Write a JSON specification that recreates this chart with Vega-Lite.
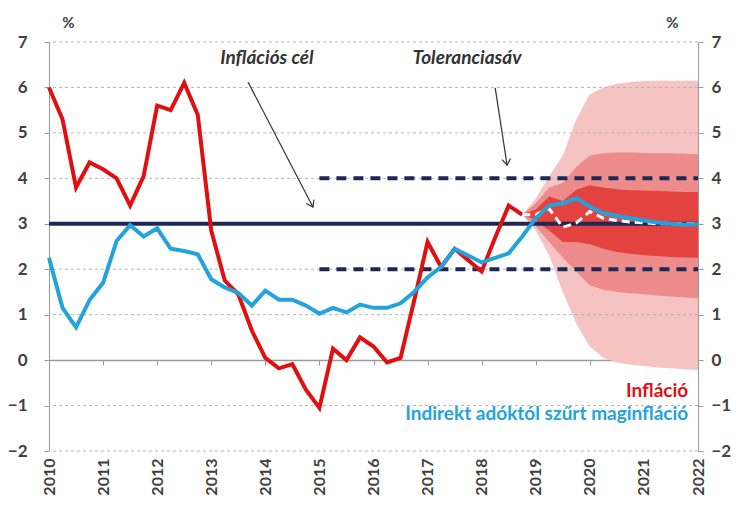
{
  "$schema": "https://vega.github.io/schema/vega-lite/v6.json",
  "autosize": "none",
  "width": 649,
  "height": 409,
  "padding": {"left": 49, "top": 42, "right": 38, "bottom": 54},
  "background": "white",
  "config": {"font": "Lato", "view": {"stroke": null}},
  "datasets": {
    "infl": [
      {"t": 2010.0, "v": 6.0}, {"t": 2010.25, "v": 5.3}, {"t": 2010.5, "v": 3.8}, {"t": 2010.75, "v": 4.35},
      {"t": 2011.0, "v": 4.2}, {"t": 2011.25, "v": 4.0}, {"t": 2011.5, "v": 3.4}, {"t": 2011.75, "v": 4.05},
      {"t": 2012.0, "v": 5.6}, {"t": 2012.25, "v": 5.5}, {"t": 2012.5, "v": 6.1}, {"t": 2012.75, "v": 5.4},
      {"t": 2013.0, "v": 2.85}, {"t": 2013.25, "v": 1.75}, {"t": 2013.5, "v": 1.45}, {"t": 2013.75, "v": 0.65},
      {"t": 2014.0, "v": 0.05}, {"t": 2014.25, "v": -0.18}, {"t": 2014.5, "v": -0.09}, {"t": 2014.75, "v": -0.65},
      {"t": 2015.0, "v": -1.05}, {"t": 2015.25, "v": 0.25}, {"t": 2015.5, "v": 0.0}, {"t": 2015.75, "v": 0.5},
      {"t": 2016.0, "v": 0.3}, {"t": 2016.25, "v": -0.05}, {"t": 2016.5, "v": 0.05}, {"t": 2016.75, "v": 1.3},
      {"t": 2017.0, "v": 2.6}, {"t": 2017.25, "v": 2.05}, {"t": 2017.5, "v": 2.45}, {"t": 2017.75, "v": 2.2},
      {"t": 2018.0, "v": 1.95}, {"t": 2018.25, "v": 2.7}, {"t": 2018.5, "v": 3.4}, {"t": 2018.75, "v": 3.2}
    ],
    "core": [
      {"t": 2010.0, "v": 2.25}, {"t": 2010.25, "v": 1.15}, {"t": 2010.5, "v": 0.72}, {"t": 2010.75, "v": 1.32},
      {"t": 2011.0, "v": 1.7}, {"t": 2011.25, "v": 2.62}, {"t": 2011.5, "v": 2.97}, {"t": 2011.75, "v": 2.72},
      {"t": 2012.0, "v": 2.9}, {"t": 2012.25, "v": 2.45}, {"t": 2012.5, "v": 2.4}, {"t": 2012.75, "v": 2.33},
      {"t": 2013.0, "v": 1.78}, {"t": 2013.25, "v": 1.6}, {"t": 2013.5, "v": 1.48}, {"t": 2013.75, "v": 1.2},
      {"t": 2014.0, "v": 1.53}, {"t": 2014.25, "v": 1.33}, {"t": 2014.5, "v": 1.33}, {"t": 2014.75, "v": 1.2},
      {"t": 2015.0, "v": 1.02}, {"t": 2015.25, "v": 1.15}, {"t": 2015.5, "v": 1.05}, {"t": 2015.75, "v": 1.22},
      {"t": 2016.0, "v": 1.15}, {"t": 2016.25, "v": 1.15}, {"t": 2016.5, "v": 1.25}, {"t": 2016.75, "v": 1.5},
      {"t": 2017.0, "v": 1.82}, {"t": 2017.25, "v": 2.05}, {"t": 2017.5, "v": 2.45}, {"t": 2017.75, "v": 2.3},
      {"t": 2018.0, "v": 2.15}, {"t": 2018.25, "v": 2.25}, {"t": 2018.5, "v": 2.35}, {"t": 2018.75, "v": 2.72},
      {"t": 2019.0, "v": 3.12}, {"t": 2019.25, "v": 3.4}, {"t": 2019.5, "v": 3.45}, {"t": 2019.75, "v": 3.56},
      {"t": 2020.0, "v": 3.38}, {"t": 2020.25, "v": 3.23}, {"t": 2020.5, "v": 3.17}, {"t": 2020.75, "v": 3.12},
      {"t": 2021.0, "v": 3.07}, {"t": 2021.25, "v": 3.03}, {"t": 2021.5, "v": 3.0}, {"t": 2021.75, "v": 2.98},
      {"t": 2022.0, "v": 2.99}
    ],
    "median": [
      {"t": 2018.75, "v": 3.2}, {"t": 2019.0, "v": 3.2}, {"t": 2019.25, "v": 3.33}, {"t": 2019.5, "v": 2.92},
      {"t": 2019.75, "v": 3.02}, {"t": 2020.0, "v": 3.27}, {"t": 2020.25, "v": 3.12}, {"t": 2020.5, "v": 3.07},
      {"t": 2020.75, "v": 3.04}, {"t": 2021.0, "v": 3.02}, {"t": 2021.25, "v": 3.0}, {"t": 2021.5, "v": 3.0},
      {"t": 2021.75, "v": 3.0}, {"t": 2022.0, "v": 3.0}
    ],
    "fan": [
      {"t": 2018.75, "olo": 3.2, "ohi": 3.2, "mlo": 3.2, "mhi": 3.2, "ilo": 3.2, "ihi": 3.2},
      {"t": 2019.0, "olo": 2.85, "ohi": 3.55, "mlo": 2.95, "mhi": 3.45, "ilo": 3.08, "ihi": 3.32},
      {"t": 2019.25, "olo": 2.3, "ohi": 4.05, "mlo": 2.6, "mhi": 3.8, "ilo": 2.85, "ihi": 3.6},
      {"t": 2019.5, "olo": 1.5, "ohi": 4.5, "mlo": 2.25, "mhi": 3.9, "ilo": 2.6, "ihi": 3.5},
      {"t": 2019.75, "olo": 0.8, "ohi": 5.3, "mlo": 1.95, "mhi": 4.25, "ilo": 2.6, "ihi": 3.75},
      {"t": 2020.0, "olo": 0.3, "ohi": 5.85, "mlo": 1.65, "mhi": 4.5, "ilo": 2.55, "ihi": 3.85},
      {"t": 2020.25, "olo": 0.05, "ohi": 6.0, "mlo": 1.55, "mhi": 4.55, "ilo": 2.45, "ihi": 3.8},
      {"t": 2020.5, "olo": -0.05, "ohi": 6.08, "mlo": 1.5, "mhi": 4.57, "ilo": 2.38, "ihi": 3.76},
      {"t": 2020.75, "olo": -0.1, "ohi": 6.12, "mlo": 1.47, "mhi": 4.57, "ilo": 2.34, "ihi": 3.74},
      {"t": 2021.0, "olo": -0.13, "ohi": 6.14, "mlo": 1.45, "mhi": 4.56, "ilo": 2.31, "ihi": 3.73},
      {"t": 2021.25, "olo": -0.16, "ohi": 6.15, "mlo": 1.42, "mhi": 4.55, "ilo": 2.29, "ihi": 3.72},
      {"t": 2021.5, "olo": -0.18, "ohi": 6.15, "mlo": 1.4, "mhi": 4.55, "ilo": 2.27, "ihi": 3.71},
      {"t": 2021.75, "olo": -0.2, "ohi": 6.15, "mlo": 1.38, "mhi": 4.54, "ilo": 2.26, "ihi": 3.7},
      {"t": 2022.0, "olo": -0.22, "ohi": 6.15, "mlo": 1.36, "mhi": 4.53, "ilo": 2.25, "ihi": 3.7}
    ],
    "grid": [{"v": -2}, {"v": -1}, {"v": 1}, {"v": 2}, {"v": 3}, {"v": 4}, {"v": 5}, {"v": 6}, {"v": 7}],
    "target": [{"t": 2010, "v": 3}, {"t": 2022, "v": 3}],
    "band": [
      {"t": 2015, "v": 4, "b": "hi"}, {"t": 2022, "v": 4, "b": "hi"},
      {"t": 2015, "v": 2, "b": "lo"}, {"t": 2022, "v": 2, "b": "lo"}
    ],
    "arrows": [
      {"x": 2013.68, "y": 6.12, "x2": 2014.88, "y2": 3.37, "ang": 62.5},
      {"x": 2018.25, "y": 5.99, "x2": 2018.47, "y2": 4.29, "ang": 82.6}
    ],
    "notes": [
      {"x": 2014.03, "y": 6.65, "label": "Inflációs cél"},
      {"x": 2017.73, "y": 6.65, "label": "Toleranciasáv"}
    ]
  },
  "resolve": {"axis": {"x": "independent", "y": "independent"}},
  "layer": [
    {
      "data": {"name": "fan"},
      "mark": {"type": "area", "color": "#F6C3C3", "opacity": 1},
      "encoding": {
        "x": {"field": "t", "type": "quantitative", "scale": {"domain": [2010, 2022], "nice": false, "zero": false},
          "axis": {"orient": "bottom", "offset": -91, "values": [2010,2011,2012,2013,2014,2015,2016,2017,2018,2019,2020,2021,2022],
            "labels": false, "ticks": true, "tickSize": 5, "tickColor": "#9A9A9A", "domain": true, "domainColor": "#9A9A9A", "domainWidth": 1.5, "grid": false, "title": null}},
        "y": {"field": "olo", "type": "quantitative", "scale": {"domain": [-2, 7], "nice": false},
          "axis": {"orient": "left", "values": [-2,-1,0,1,2,3,4,5,6,7], "grid": false,
            "domain": true, "domainColor": "#9A9A9A", "ticks": true, "tickSize": 5, "tickColor": "#9A9A9A",
            "labelFontSize": 17, "labelFontWeight": "bold", "labelColor": "#404040", "labelPadding": 17,
            "title": "%", "titleAngle": 0, "titleX": 19, "titleY": -20, "titleFontSize": 15, "titleFontWeight": "bold", "titleColor": "#404040", "titleAlign": "center", "titleBaseline": "middle"}},
        "y2": {"field": "ohi"}
      }
    },
    {
      "data": {"name": "fan"},
      "mark": {"type": "area", "color": "#EE8B8B", "opacity": 1},
      "encoding": {
        "x": {"field": "t", "type": "quantitative", "axis": null},
        "y": {"field": "mlo", "type": "quantitative", "axis": null},
        "y2": {"field": "mhi"}
      }
    },
    {
      "data": {"name": "fan"},
      "mark": {"type": "area", "color": "#E4423F", "opacity": 1},
      "encoding": {
        "x": {"field": "t", "type": "quantitative", "axis": null},
        "y": {"field": "ilo", "type": "quantitative", "axis": null},
        "y2": {"field": "ihi"}
      }
    },
    {
      "data": {"name": "grid"},
      "mark": {"type": "rule", "color": "#B5B5B5", "strokeWidth": 1, "strokeDash": [3, 3]},
      "encoding": {
        "y": {"field": "v", "type": "quantitative", "axis": null}
      }
    },
    {
      "data": {"name": "band"},
      "mark": {"type": "line", "color": "#1C2957", "strokeWidth": 4, "strokeDash": [10, 7]},
      "encoding": {
        "x": {"field": "t", "type": "quantitative", "axis": null},
        "y": {"field": "v", "type": "quantitative", "axis": null},
        "detail": {"field": "b"}
      }
    },
    {
      "data": {"name": "target"},
      "mark": {"type": "line", "color": "#1C2957", "strokeWidth": 4},
      "encoding": {
        "x": {"field": "t", "type": "quantitative",
          "axis": {"orient": "bottom", "values": [2010,2011,2012,2013,2014,2015,2016,2017,2018,2019,2020,2021,2022], "format": "d",
            "domain": false, "ticks": false, "grid": false, "labelAngle": -90, "labelAlign": "right", "labelBaseline": "middle",
            "labelPadding": 7, "labelFontSize": 16, "labelFontWeight": "bold", "labelColor": "#404040", "title": null}},
        "y": {"field": "v", "type": "quantitative",
          "axis": {"orient": "right", "values": [-2,-1,0,1,2,3,4,5,6,7], "grid": false,
            "domain": true, "domainColor": "#9A9A9A", "ticks": true, "tickSize": 5, "tickColor": "#9A9A9A",
            "labelFontSize": 17, "labelFontWeight": "bold", "labelColor": "#404040", "labelPadding": 8,
            "title": "%", "titleAngle": 0, "titleX": -26, "titleY": -20, "titleFontSize": 15, "titleFontWeight": "bold", "titleColor": "#404040", "titleAlign": "center", "titleBaseline": "middle"}}
      }
    },
    {
      "data": {"name": "infl"},
      "mark": {"type": "line", "color": "#E01010", "strokeWidth": 4},
      "encoding": {
        "x": {"field": "t", "type": "quantitative", "axis": null},
        "y": {"field": "v", "type": "quantitative", "axis": null}
      }
    },
    {
      "data": {"name": "median"},
      "mark": {"type": "line", "color": "#FFFFFF", "strokeWidth": 3, "strokeDash": [8, 5]},
      "encoding": {
        "x": {"field": "t", "type": "quantitative", "axis": null},
        "y": {"field": "v", "type": "quantitative", "axis": null}
      }
    },
    {
      "data": {"name": "core"},
      "mark": {"type": "line", "color": "#23A3DB", "strokeWidth": 4},
      "encoding": {
        "x": {"field": "t", "type": "quantitative", "axis": null},
        "y": {"field": "v", "type": "quantitative", "axis": null}
      }
    },
    {
      "data": {"name": "arrows"},
      "mark": {"type": "rule", "color": "#333333", "strokeWidth": 1.2},
      "encoding": {
        "x": {"field": "x", "type": "quantitative", "axis": null},
        "y": {"field": "y", "type": "quantitative", "axis": null},
        "x2": {"field": "x2"},
        "y2": {"field": "y2"}
      }
    },
    {
      "data": {"name": "arrows"},
      "mark": {"type": "point", "shape": "M -1 -0.7 L 0 0 L -1 0.7", "filled": false, "stroke": "#333333", "strokeWidth": 1.2, "size": 150, "opacity": 1},
      "encoding": {
        "x": {"field": "x2", "type": "quantitative", "axis": null},
        "y": {"field": "y2", "type": "quantitative", "axis": null},
        "angle": {"field": "ang", "type": "quantitative", "scale": null}
      }
    },
    {
      "data": {"name": "notes"},
      "mark": {"type": "text", "fontSize": 19, "fontStyle": "italic", "fontWeight": "bold", "color": "#333333", "align": "center", "baseline": "middle"},
      "encoding": {
        "x": {"field": "x", "type": "quantitative", "axis": null},
        "y": {"field": "y", "type": "quantitative", "axis": null},
        "text": {"field": "label"}
      }
    },
    {
      "data": {"values": [
        {"x": 2021.82, "y": -0.68, "label": "Infláció", "s": "infl"},
        {"x": 2021.82, "y": -1.18, "label": "Indirekt adóktól szűrt maginfláció", "s": "core"}
      ]},
      "mark": {"type": "text", "fontSize": 19, "fontWeight": "bold", "align": "right", "baseline": "middle"},
      "encoding": {
        "x": {"field": "x", "type": "quantitative", "axis": null},
        "y": {"field": "y", "type": "quantitative", "axis": null},
        "text": {"field": "label"},
        "color": {"field": "s", "type": "nominal", "scale": {"domain": ["infl", "core"], "range": ["#E01010", "#23A3DB"]}, "legend": null}
      }
    }
  ]
}
